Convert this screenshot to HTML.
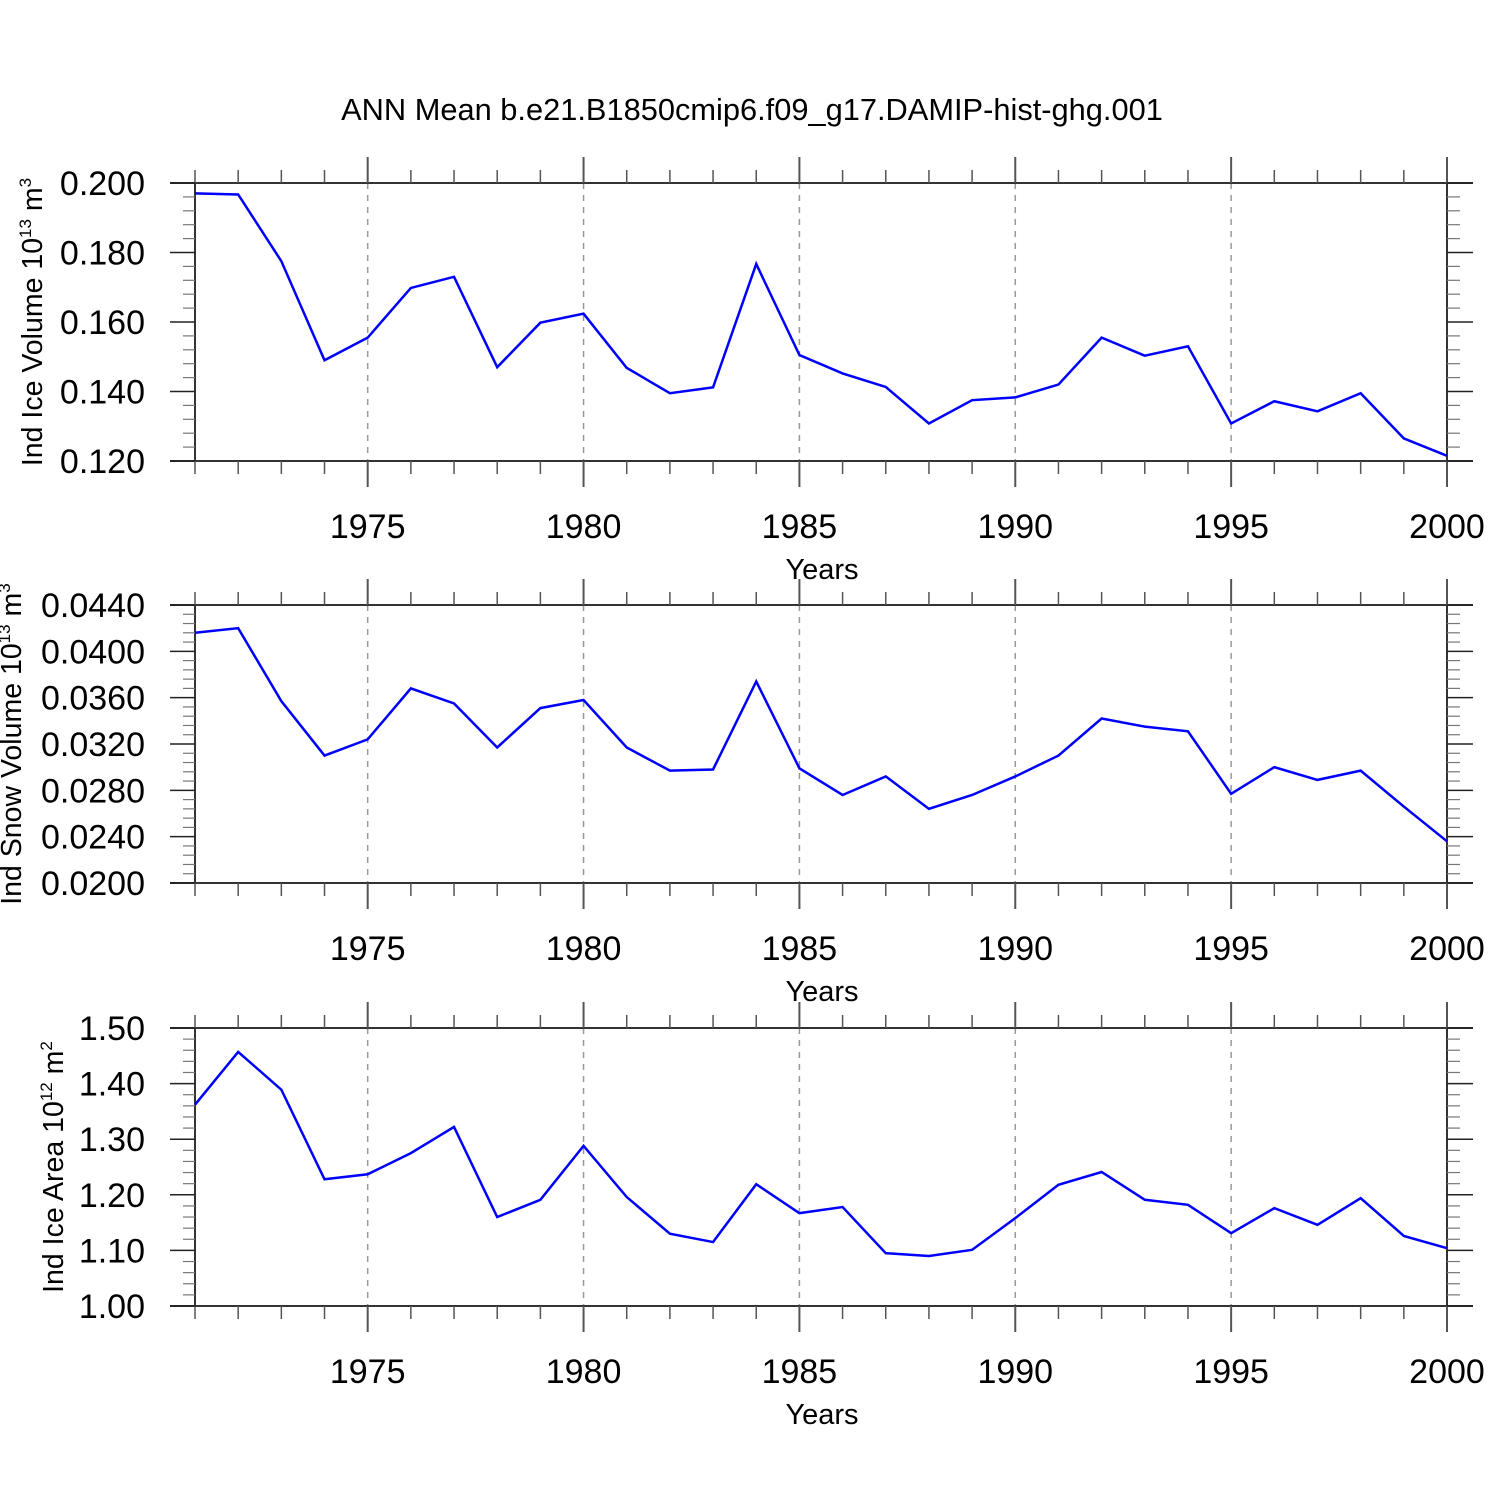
<!DOCTYPE html>
<html><head><meta charset="utf-8"><style>
body{margin:0;background:#fff}
svg{display:block;font-family:"Liberation Sans",sans-serif}
</style></head><body>
<svg id="chart" width="1500" height="1500" xmlns="http://www.w3.org/2000/svg">
<rect width="1500" height="1500" fill="#fff"/>
<text x="752" y="120" font-size="30.8" text-anchor="middle">ANN Mean b.e21.B1850cmip6.f09_g17.DAMIP-hist-ghg.001</text>
</svg>
<script>
const years = [1971,1972,1973,1974,1975,1976,1977,1978,1979,1980,1981,1982,1983,1984,1985,1986,1987,1988,1989,1990,1991,1992,1993,1994,1995,1996,1997,1998,1999,2000];
const iceVolume = [0.197,0.1967,0.1775,0.149,0.1555,0.1698,0.173,0.147,0.1598,0.1624,0.1468,0.1395,0.1412,0.1767,0.1505,0.1452,0.1413,0.1308,0.1375,0.1383,0.142,0.1555,0.1503,0.153,0.1308,0.1372,0.1343,0.1395,0.1265,0.1215];
const snowVolume = [0.0416,0.0420,0.0357,0.0310,0.0324,0.0368,0.0355,0.0317,0.0351,0.0358,0.0317,0.0297,0.0298,0.0374,0.0299,0.0276,0.0292,0.0264,0.0276,0.0292,0.0310,0.0342,0.0335,0.0331,0.0277,0.0300,0.0289,0.0297,0.0266,0.0236];
const iceArea = [1.362,1.457,1.389,1.228,1.237,1.275,1.322,1.160,1.191,1.288,1.196,1.130,1.115,1.219,1.167,1.178,1.095,1.090,1.101,1.158,1.218,1.241,1.191,1.182,1.131,1.176,1.146,1.194,1.126,1.104];
const xTicks = [1975,1980,1985,1990,1995,2000];
const iceVolTicks = ["0.120","0.140","0.160","0.180","0.200"];
const snowVolTicks = ["0.0200","0.0240","0.0280","0.0320","0.0360","0.0400","0.0440"];
const iceAreaTicks = ["1.00","1.10","1.20","1.30","1.40","1.50"];

const svg = document.getElementById('chart');
const NS = 'http://www.w3.org/2000/svg';
function el(tag, attrs, parent){const e=document.createElementNS(NS,tag);for(const k in attrs)e.setAttribute(k,attrs[k]);(parent||svg).appendChild(e);return e;}
const X0=195,X1=1447;
function xs(y){return X0+(y-1971)/(2000-1971)*(X1-X0);}

function panel(top, data, ticks, name, titleHTML, titleX){
  const bot=top+278;
  const ymin=parseFloat(ticks[0]), ymax=parseFloat(ticks[ticks.length-1]);
  const ys=v=>bot-(v-ymin)/(ymax-ymin)*(bot-top);
  const g=el('g',{});
  
  
  xTicks.forEach(t=>{ if(t<2000){const l=el('line',{x1:xs(t),x2:xs(t),y1:top,y2:bot,stroke:'#999','stroke-width':1.5,'stroke-dasharray':'6,6'},g);
     }});
  const st={stroke:'#333','stroke-width':2};
  el('line',Object.assign({x1:170,x2:1473,y1:top,y2:top},st),g);
  el('line',Object.assign({x1:170,x2:1473,y1:bot,y2:bot},st),g);
  el('line',Object.assign({x1:X0,x2:X0,y1:top,y2:bot},st),g);
  el('line',Object.assign({x1:X1,x2:X1,y1:top,y2:bot},st),g);
  for(let y=1971;y<=2000;y++){
    const major=y%5===0, x=xs(y);
    const len=major?26:13;
    el('line',{x1:x,x2:x,y1:top-len,y2:top,stroke:'#555','stroke-width':major?2:1.5},g);
    el('line',{x1:x,x2:x,y1:bot,y2:bot+len,stroke:'#555','stroke-width':major?2:1.5},g);
  }
  xTicks.forEach(t=>{const tx=el('text',{x:xs(t),y:bot+77,'font-size':34,'text-anchor':'middle'},g);tx.textContent=t;
     });
  const xt=el('text',{x:822,y:bot+118,'font-size':29,'text-anchor':'middle'},g); xt.textContent='Years';
   
  const n=ticks.length-1, step=(bot-top)/n;
  for(let i=0;i<=n;i++){
    const y=bot-i*step;
    el('line',{x1:170,x2:X0,y1:y,y2:y,stroke:'#222','stroke-width':1.5},g);
    el('line',{x1:X1,x2:1473,y1:y,y2:y,stroke:'#222','stroke-width':1.5},g);
    const tl=el('text',{x:145,y:y+12,'font-size':34,'text-anchor':'end'},g); tl.textContent=ticks[i];
     
    if(i<n) for(let k=1;k<5;k++){const yy=y-k*step/5;
      el('line',{x1:183,x2:X0,y1:yy,y2:yy,stroke:'#777','stroke-width':1.2},g);
      el('line',{x1:X1,x2:1460,y1:yy,y2:yy,stroke:'#777','stroke-width':1.2},g);}
  }
  const yt=el('text',{x:0,y:0,'font-size':28.5,'text-anchor':'middle',transform:`translate(${titleX},${(top+bot)/2}) rotate(-90)`},g);
  yt.innerHTML=titleHTML;
   
  const pts=data.map((v,i)=>xs(years[i])+','+ys(v)).join(' ');
  const pl=el('polyline',{points:pts,fill:'none',stroke:'#0000ff','stroke-width':2.5,'stroke-linejoin':'miter'},g);
   
}
panel(183, iceVolume, iceVolTicks, 'ice-volume', 'Ind Ice Volume 10<tspan dy="-11" font-size="17">13</tspan><tspan dy="11"> m</tspan><tspan dy="-11" font-size="17">3</tspan>', 42);
panel(605, snowVolume, snowVolTicks, 'snow-volume', 'Ind Snow Volume 10<tspan dy="-11" font-size="17">13</tspan><tspan dy="11"> m</tspan><tspan dy="-11" font-size="17">3</tspan>', 21);
panel(1028, iceArea, iceAreaTicks, 'ice-area', 'Ind Ice Area 10<tspan dy="-11" font-size="17">12</tspan><tspan dy="11"> m</tspan><tspan dy="-11" font-size="17">2</tspan>', 63);
</script>
</body></html>
